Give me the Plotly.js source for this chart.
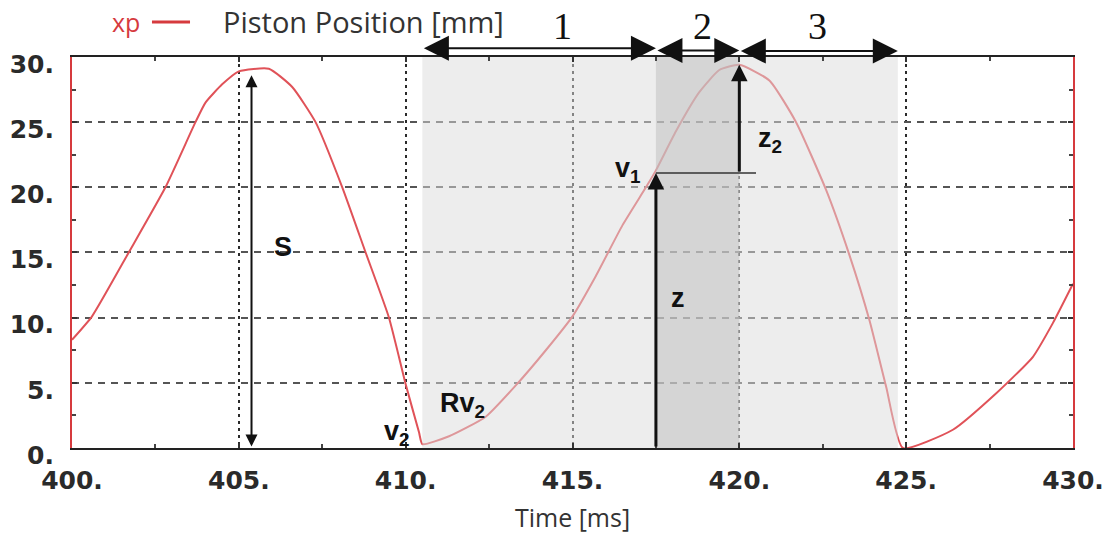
<!DOCTYPE html>
<html>
<head>
<meta charset="utf-8">
<script src="https://cdn.plot.ly/plotly-3.0.1.min.js"></script>
<style>
  html, body { margin: 0; padding: 0; background: #ffffff; }
  #chart { width: 1117px; height: 546px; }
</style>
</head>
<body>
<div id="chart"></div>
<script>
// Piston position xp [mm] against time [ms]
const timeMs = [
  400.0, 400.6, 401.7, 402.8, 403.7, 404.0, 404.5, 405.0, 405.9, 406.6,
  407.3, 408.1, 408.8, 409.5, 410.0, 410.4, 410.5, 411.3, 412.4, 413.3,
  414.2, 415.0, 415.7, 416.5, 417.2, 417.5, 418.1, 418.8, 419.4, 420.0,
  420.9, 421.7, 422.6, 423.3, 423.9, 424.4, 424.9, 426.4, 427.7, 428.8,
  429.4, 430.0
];
const pistonMm = [
  8.3, 10.1, 15.0, 20.0, 25.0, 26.5, 27.9, 28.9, 29.1, 27.7,
  25.0, 20.0, 15.0, 10.0, 4.9, 1.2, 0.3, 0.9, 2.4, 4.8,
  7.5, 10.1, 13.2, 17.1, 20.0, 21.3, 24.3, 27.3, 29.0, 29.4,
  28.2, 25.0, 19.8, 14.8, 9.8, 4.7, 0.0, 1.4, 4.2, 7.0,
  9.6, 12.6
];

// Axis ticks
const xTickVals = [400, 405, 410, 415, 420, 425, 430];
const xTickText = ['400.', '405.', '410.', '415.', '420.', '425.', '430.'];
const yTickVals = [0, 5, 10, 15, 20, 25, 30];
const yTickText = ['0.', '5.', '10.', '15.', '20.', '25.', '30.'];
const xRange = [400, 430];
const yRange = [0, 30];

// Phases 1-3: boundaries in ms, labels and label positions (strip above the plot, 0..1)
const phaseBounds = [410.5, 417.5, 420.0, 424.75];
const phaseLabels = ['1', '2', '3'];
const phaseLabelX = [414.7, 418.9, 422.35];
const phaseArrowY = [0.12, 0.08, 0.07];
const phaseLabelY = 0.52;

// Stroke S (bottom to top dead centre)
const strokeX = [405.38, 405.38];
const strokeY = [0, 28.6];
// Valve point v1: lift z and remaining stroke z2
const zX = [417.5, 417.5];
const zY = [0, 21.1];
const z2X = [420.0, 420.0];
const z2Y = [21.1, 29.4];
const v1LineX = [417.5, 420.5];

// Point labels
const markLabels = ['S', 'z', 'v<sub>1</sub>', 'z<sub>2</sub>', 'v<sub>2</sub>', 'Rv<sub>2</sub>'];
const markLabelX = [406.32, 418.16, 416.66, 420.92, 409.74, 411.69];
const markLabelY = [15.4, 11.5, 21.3, 23.6, 1.15, 3.3];

const red = 'rgb(214,58,62)';
const ink = '#111111';

const traces = [];

// the curve
traces.push({
  x: timeMs,
  y: pistonMm,
  type: 'scatter',
  mode: 'lines',
  name: 'Piston Position [mm]',
  line: { color: 'rgb(224,82,88)', width: 2, shape: 'spline', smoothing: 0.5 },
  showlegend: false,
  hoverinfo: 'skip'
});

// translucent bands over phases 1-3 and phase 2
function band(x0, x1, color) {
  return {
    x: [x0, x1, x1, x0, x0],
    y: [yRange[0], yRange[0], yRange[1], yRange[1], yRange[0]],
    type: 'scatter', mode: 'lines', fill: 'toself',
    fillcolor: color, line: { width: 0 },
    showlegend: false, hoverinfo: 'skip'
  };
}
traces.push(band(phaseBounds[0], phaseBounds[3], 'rgba(219,219,219,0.5)'));
traces.push(band(phaseBounds[1], phaseBounds[2], 'rgba(189,189,189,0.5)'));

// level of v1
traces.push({
  x: v1LineX, y: [zY[1], zY[1]],
  type: 'scatter', mode: 'lines',
  line: { color: '#333', width: 1.5 },
  showlegend: false, hoverinfo: 'skip'
});

// invisible trace that anchors the strip above the plot
traces.push({
  x: xRange, y: [0, 1], xaxis: 'x2', yaxis: 'y2',
  type: 'scatter', mode: 'none', showlegend: false, hoverinfo: 'skip'
});

// arrow from (xs[0], ys[0]) to (xs[1], ys[1])
function arrow(xs, ys, xr, yr, opts) {
  return Object.assign({
    xref: xr, yref: yr, axref: xr, ayref: yr,
    x: xs[1], y: ys[1], ax: xs[0], ay: ys[0],
    text: '', showarrow: true, standoff: 0, startstandoff: 0,
    arrowcolor: ink
  }, opts);
}

const annotations = [];

annotations.push(arrow(strokeX, strokeY, 'x', 'y', {
  arrowhead: 2, startarrowhead: 2, arrowside: 'end+start',
  arrowwidth: 2, arrowsize: 1.2, startarrowsize: 1.2
}));
annotations.push(arrow(zX, zY, 'x', 'y', { arrowhead: 2, arrowwidth: 3, arrowsize: 1.1 }));
annotations.push(arrow(z2X, z2Y, 'x', 'y', { arrowhead: 2, arrowwidth: 3, arrowsize: 1.1 }));

for (let i = 0; i < phaseLabels.length; i++) {
  annotations.push(arrow(
    [phaseBounds[i], phaseBounds[i + 1]],
    [phaseArrowY[i], phaseArrowY[i]], 'x2', 'y2', {
      arrowhead: 2, startarrowhead: 2, arrowside: 'end+start',
      arrowwidth: 2, arrowsize: 2.5, startarrowsize: 2.5
    }));
  annotations.push({
    xref: 'x2', yref: 'y2', x: phaseLabelX[i], y: phaseLabelY,
    text: phaseLabels[i], showarrow: false,
    font: { family: 'Liberation Serif', size: 38, color: '#111' }
  });
}

for (let i = 0; i < markLabels.length; i++) {
  annotations.push({
    xref: 'x', yref: 'y', x: markLabelX[i], y: markLabelY[i],
    text: markLabels[i], showarrow: false,
    font: { family: 'Liberation Sans', size: 27, color: ink, weight: 'bold' }
  });
}

// legend row
annotations.push({
  xref: 'paper', yref: 'paper', x: 0.038, y: 0.951, xanchor: 'left', yanchor: 'middle',
  text: 'xp', showarrow: false,
  font: { family: 'Open Sans', size: 25, color: red }
});
annotations.push({
  xref: 'paper', yref: 'paper', x: 0.1485, y: 0.951, xanchor: 'left', yanchor: 'middle',
  text: 'Piston Position [mm]', showarrow: false,
  font: { family: 'Open Sans', size: 29, color: '#333' }
});

const shapes = [
  {
    type: 'line', xref: 'paper', yref: 'paper',
    x0: 0.0799, x1: 0.1179, y0: 0.951, y1: 0.951,
    line: { color: red, width: 3 }
  }
];

const tickFont = { family: 'DejaVu Sans', size: 25, color: '#2a2a2a', weight: 'bold' };

const layout = {
  width: 1117,
  height: 546,
  margin: { l: 72, r: 44, t: 0, b: 98 },
  paper_bgcolor: '#ffffff',
  plot_bgcolor: '#ffffff',
  showlegend: false,
  xaxis: {
    range: xRange,
    anchor: 'y',
    tickmode: 'array', tickvals: xTickVals, ticktext: xTickText,
    tickfont: tickFont,
    ticks: 'inside', ticklen: 5, tickwidth: 2, tickcolor: '#333',
    ticklabelstandoff: 9,
    minor: { tickmode: 'linear', tick0: 400, dtick: 2.5, ticks: 'inside', ticklen: 4, tickwidth: 2, tickcolor: '#444', showgrid: false },
    showline: true, linecolor: '#222', linewidth: 2, mirror: 'allticks',
    showgrid: true, gridcolor: '#2a2a2a', gridwidth: 2, griddash: '3px,4px',
    zeroline: false,
    title: { text: 'Time [ms]', font: { family: 'Open Sans', size: 25, color: '#333' }, standoff: 15 }
  },
  yaxis: {
    range: yRange,
    domain: [0, 0.8728],
    anchor: 'x',
    tickmode: 'array', tickvals: yTickVals, ticktext: yTickText,
    tickfont: tickFont,
    ticks: 'inside', ticklen: 5, tickwidth: 2, tickcolor: '#333',
    ticklabelstandoff: 11, ticklabelshift: 7,
    minor: { tickmode: 'linear', tick0: 0, dtick: 2.5, ticks: 'inside', ticklen: 4, tickwidth: 2, tickcolor: '#444', showgrid: false },
    showline: true, linecolor: red, linewidth: 2, mirror: 'allticks',
    showgrid: true, gridcolor: '#555', gridwidth: 2, griddash: '7px,6px',
    zeroline: false
  },
  xaxis2: {
    range: xRange, anchor: 'y2', domain: [0, 1],
    visible: false, showgrid: false, zeroline: false
  },
  yaxis2: {
    range: [0, 1], anchor: 'x2', domain: [0.8773, 1],
    visible: false, showgrid: false, zeroline: false
  },
  shapes: shapes,
  annotations: annotations
};

Plotly.newPlot('chart', traces, layout, { staticPlot: true, displayModeBar: false });
</script>
</body>
</html>
